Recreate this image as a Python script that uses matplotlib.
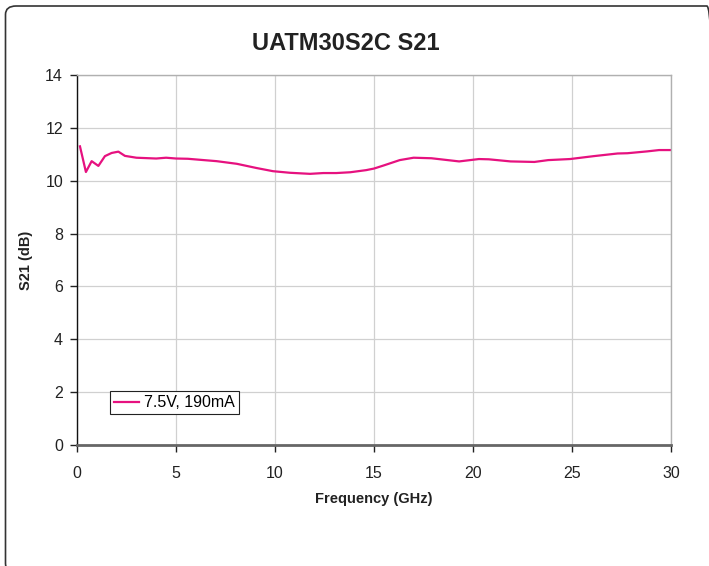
#!/usr/bin/env python3

import matplotlib
matplotlib.use('Agg')
import matplotlib.pyplot as plt
from matplotlib.patches import FancyBboxPatch

# frequency (GHz) and S21 (dB)
freq = [0.15, 0.45, 0.74, 1.08, 1.41, 1.75, 2.09, 2.42, 3.0, 4.0, 4.5, 5.0,
        5.6, 6.4, 7.05, 8.07, 9.07, 9.9, 10.76, 11.77, 12.44, 13.1, 13.8,
        14.6, 15.0, 15.5, 16.3, 17.0, 17.9, 19.3, 20.3, 20.8, 21.9, 23.1,
        23.8, 24.9, 26.1, 27.3, 27.8, 28.8, 29.4, 30.0]
s21 = [11.30, 10.33, 10.74, 10.56, 10.93, 11.05, 11.10, 10.94, 10.87, 10.84,
       10.87, 10.84, 10.83, 10.78, 10.74, 10.64, 10.48, 10.36, 10.30, 10.26,
       10.29, 10.29, 10.32, 10.40, 10.46, 10.58, 10.78, 10.87, 10.85, 10.73,
       10.82, 10.81, 10.73, 10.71, 10.78, 10.82, 10.93, 11.03, 11.04, 11.11,
       11.16, 11.16]

series_label = '7.5V, 190mA'
x_ticks = [0, 5, 10, 15, 20, 25, 30]
y_ticks = [0, 2, 4, 6, 8, 10, 12, 14]


def main():
    plt.rcParams['font.family'] = ['Liberation Sans', 'DejaVu Sans']

    fig = plt.figure(figsize=(7.09, 5.66), dpi=100)

    # rounded outer frame; right and bottom edges run off the canvas
    border = FancyBboxPatch((5.5 / 709, -6 / 566), 712 / 709, 566 / 566,
                            boxstyle='round,pad=0,rounding_size=0.015',
                            transform=fig.transFigure, facecolor='none',
                            edgecolor='#333333', linewidth=1.2, zorder=0)
    fig.patches.append(border)

    ax = fig.add_axes([77 / 709, 121 / 566, 594 / 709, 370 / 566])
    ax.plot(freq, s21, color='#E6117F', linewidth=1.6, label=series_label)

    ax.set_xlim(0, 30)
    ax.set_ylim(0, 14)
    ax.set_xticks(x_ticks)
    ax.set_yticks(y_ticks)
    ax.grid(True, color='#d0d0d0', linewidth=0.9)
    ax.set_axisbelow(True)

    for side in ['top', 'right']:
        ax.spines[side].set_color('#b0b0b0')
        ax.spines[side].set_linewidth(1.0)
    ax.spines['left'].set_color('#111111')
    ax.spines['left'].set_linewidth(1.0)
    ax.spines['bottom'].set_color('#666666')
    ax.spines['bottom'].set_linewidth(2.0)

    ax.tick_params(direction='out', length=5, width=1, color='#222222',
                   labelsize=11.5, labelcolor='#222222')
    ax.tick_params(axis='x', pad=10)
    ax.tick_params(axis='y', pad=5)

    ax.set_xlabel('Frequency (GHz)', fontsize=10.5, fontweight='bold',
                  labelpad=8, color='#222222')
    ax.set_ylabel('S21 (dB)', fontsize=10.5, fontweight='bold',
                  labelpad=9, color='#222222')

    fig.text(346 / 709, 1 - 44 / 566, 'UATM30S2C S21', ha='center',
             va='center', fontsize=17, fontweight='bold', color='#222222')

    leg = ax.legend(loc='lower left', bbox_to_anchor=(0.055, 0.083),
                    borderaxespad=0, fontsize=11.5, fancybox=False,
                    framealpha=1, edgecolor='#222222', handlelength=1.6,
                    handletextpad=0.3, borderpad=0.25)
    leg.get_frame().set_linewidth(0.8)

    plt.savefig('out.png', dpi=100)


if __name__ == '__main__':
    main()
